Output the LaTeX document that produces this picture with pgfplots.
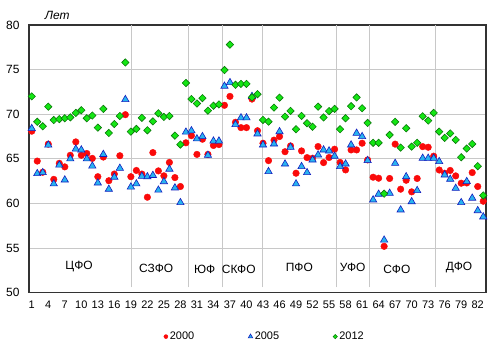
\documentclass[border=0pt]{standalone}
\usepackage{fontspec}
\setmainfont{Liberation Sans}
\usepackage{pgfplots}
\pgfplotsset{compat=1.18}
\usepackage{pgfplotstable}

\definecolor{cRed}{RGB}{250,10,10}
\definecolor{cBlueF}{RGB}{40,180,240}
\definecolor{cBlueE}{RGB}{20,30,190}
\definecolor{cGreenF}{RGB}{20,230,20}
\definecolor{cGreenE}{RGB}{10,120,10}
\definecolor{cGrid}{RGB}{200,200,200}

\pgfplotstableread{
c r b g
1 68.1 68.4 72.0
2 64.75 63.35 69.15
3 63.5 63.46 68.65
4 66.65 66.55 70.85
5 62.7 62.2 69.35
6 64.5 64.3 69.45
7 64.1 62.64 69.55
8 65.4 65.0 69.65
9 66.9 66.1 70.15
10 65.4 66.0 70.45
11 65.6 65.0 69.55
12 65.05 64.2 69.85
13 63.0 62.3 68.5
14 65.2 65.5 70.6
15 62.55 61.6 67.9
16 63.3 62.95 68.9
17 65.35 63.95 69.8
18 69.95 71.65 75.8
19 63.0 61.85 68.05
20 63.7 62.2 68.35
21 63.3 63.05 69.6
22 60.7 63.0 68.2
23 65.7 63.15 69.2
24 63.65 61.5 70.1
25 63.1 62.45 69.7
26 64.6 63.85 69.8
27 62.9 61.75 67.6
28 61.9 60.1 66.6
29 66.8 68.0 73.5
30 67.6 68.15 71.7
31 65.5 67.25 71.2
32 67.2 67.5 71.8
33 65.5 65.4 70.4
34 66.5 67.0 70.95
35 66.6 67.0 71.1
36 71.0 73.15 74.95
37 72.0 73.55 77.8
38 69.1 68.85 73.3
39 68.5 69.6 73.4
40 68.5 69.6 73.4
41 71.7 72.0 71.9
42 68.15 67.8 72.25
43 66.75 66.56 69.36
44 64.8 63.58 69.17
45 67.1 66.67 70.74
46 67.5 68.05 71.86
47 65.8 64.43 69.73
48 66.45 66.3 70.37
49 63.39 62.2 68.32
50 65.89 64.14 69.81
51 65.14 63.46 68.99
52 65.07 64.88 68.6
53 66.38 65.44 70.85
54 64.58 66.0 69.64
55 65.15 65.89 70.35
56 66.08 65.3 70.6
57 64.6 64.14 68.32
58 63.76 64.43 69.55
59 66.0 66.56 70.9
60 66.0 67.87 71.88
61 66.75 67.5 70.67
62 64.88 64.81 69.03
63 62.94 60.4 66.8
64 62.83 61.04 66.8
65 55.2 55.9 61.1
66 62.8 61.15 67.68
67 66.65 64.5 69.15
68 61.6 59.28 66.26
69 62.6 63.0 68.43
70 61.3 60.2 66.37
71 62.8 61.45 66.8
72 66.37 65.07 69.77
73 66.3 65.07 69.29
74 65.3 65.07 70.15
75 63.75 64.7 68.05
76 63.39 63.2 67.35
77 63.7 62.72 67.85
78 63.09 61.7 67.12
79 62.27 60.1 65.18
80 62.3 62.46 66.15
81 63.46 60.6 66.67
82 61.9 59.2 64.18
83 60.25 58.5 60.9
}\data

\begin{document}
\begin{tikzpicture}
\useasboundingbox (-29bp,-60.3bp) rectangle (471bp,292.7bp);
\begin{axis}[
  at={(0,0)}, anchor=south west,
  scale only axis, width=457bp, height=267.7bp,
  xmin=0.5, xmax=83.5, ymin=50, ymax=80,
  xtick={1,4,...,82}, ytick={50,55,...,80},
  ymajorgrids, major grid style={cGrid, line width=0.9bp},
  axis line style={black!80, line width=1.3bp},
  major tick length=0,
  /pgf/number format/assume math mode=true,
  xticklabel style={font=\fontsize{11}{12}\selectfont, yshift=-5bp},
  yticklabel style={font=\fontsize{12}{13}\selectfont, xshift=-6bp},
  clip=false,
  legend columns=3,
  legend style={draw=none, fill=none, at={(axis description cs:0.516,-0.164)}, anchor=center,
    font=\fontsize{11}{12}\selectfont,
    /tikz/every even column/.append style={column sep=52bp}},
  legend image code/.code={\draw[mark repeat=2,mark phase=2,#1] plot coordinates {(0bp,0bp)(2bp,0bp)(4bp,0bp)};},
]
\addplot[forget plot, cGrid, line width=0.9bp] coordinates {(19.03,50.6) (19.03,80)};
\addplot[forget plot, cGrid, line width=0.9bp] coordinates {(29.43,50.6) (29.43,80)};
\addplot[forget plot, cGrid, line width=0.9bp] coordinates {(35.6,50.6) (35.6,80)};
\addplot[forget plot, cGrid, line width=0.9bp] coordinates {(42.87,50.6) (42.87,80)};
\addplot[forget plot, cGrid, line width=0.9bp] coordinates {(56.26,50.6) (56.26,80)};
\addplot[forget plot, cGrid, line width=0.9bp] coordinates {(62.3,50.6) (62.3,80)};
\addplot[forget plot, cGrid, line width=0.9bp] coordinates {(74.36,50.6) (74.36,80)};

\addplot[only marks, mark=*, mark size=3.3bp, color=cRed, mark options={fill=cRed, draw=cRed},
  legend image post style={mark size=2bp}] table[x=c,y=r]{\data};
\addplot[only marks, mark=triangle*, mark size=4.2bp, mark options={fill=cBlueF, draw=cBlueE, line width=0.6bp},
  legend image post style={mark size=2.6bp}] table[x=c,y=b]{\data};
\addplot[only marks, mark=square*, mark size=2.6bp, mark options={rotate=45, fill=cGreenF, draw=cGreenE, line width=0.6bp},
  legend image post style={mark size=1.5bp}] table[x=c,y=g]{\data};
\legend{2000,2005,2012}

\node[font=\fontsize{12}{13}\selectfont] at (axis cs:9.6,52.9) {ЦФО};
\node[font=\fontsize{12}{13}\selectfont] at (axis cs:23.6,52.7) {СЗФО};
\node[font=\fontsize{12}{13}\selectfont] at (axis cs:32.4,52.6) {ЮФ};
\node[font=\fontsize{12}{13}\selectfont] at (axis cs:38.6,52.6) {СКФО};
\node[font=\fontsize{12}{13}\selectfont] at (axis cs:49.6,52.8) {ПФО};
\node[font=\fontsize{12}{13}\selectfont] at (axis cs:59.3,52.8) {УФО};
\node[font=\fontsize{12}{13}\selectfont] at (axis cs:67.3,52.6) {СФО};
\node[font=\fontsize{12}{13}\selectfont] at (axis cs:78.6,52.8) {ДФО};
\node[font=\itshape\fontsize{12}{13}\selectfont] at (axis description cs:0.062,1.034) {Лет};
\end{axis}
\end{tikzpicture}
\end{document}
